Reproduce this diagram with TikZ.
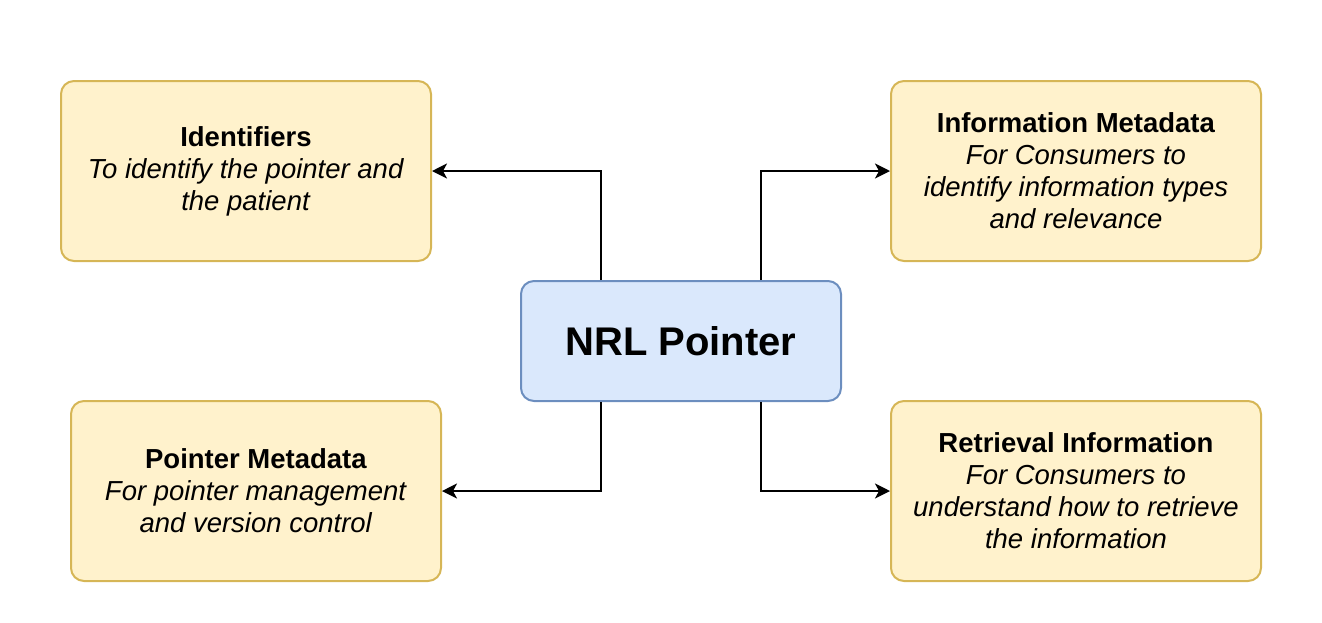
\documentclass[tikz,border=0pt]{standalone}
\usepackage{fontspec}
\setmainfont{Liberation Sans}
\usetikzlibrary{arrows.meta}
\definecolor{yfill}{HTML}{FFF2CC}
\definecolor{ydraw}{HTML}{D6B656}
\definecolor{bfill}{HTML}{DAE8FC}
\definecolor{bdraw}{HTML}{6C8EBF}
\tikzset{
  infobox/.style={draw=ydraw, fill=yfill, line width=2pt, rounded corners=13pt,
    minimum width=370pt, minimum height=180pt, inner sep=0pt, align=center,
    font=\fontsize{27.5}{32}\selectfont},
  mainbox/.style={draw=bdraw, fill=bfill, line width=2pt, rounded corners=13pt,
    minimum width=320pt, minimum height=120pt, inner sep=0pt, align=center,
    font=\fontsize{40}{48}\selectfont\bfseries},
  arr/.style={draw=black, line width=2pt, -{Stealth[length=15pt,width=15pt,inset=4pt]}}
}
\begin{document}
\begin{tikzpicture}[x=1pt,y=-1pt]
\useasboundingbox (0,0) rectangle (1322,622);
\node[infobox] (ident) at (246,171) {\textbf{Identifiers}\\\textit{To identify the pointer and}\\\textit{the patient}};
\node[infobox] (infometa) at (1076,171) {\textbf{Information Metadata}\\\textit{For Consumers to}\\\textit{identify information types}\\\textit{and relevance}};
\node[mainbox] (nrl) at (681,341) {NRL Pointer};
\node[infobox] (ptrmeta) at (256,491) {\textbf{Pointer Metadata}\\\textit{For pointer management}\\\textit{and version control}};
\node[infobox] (retr) at (1076,491) {\textbf{Retrieval Information}\\\textit{For Consumers to}\\\textit{understand how to retrieve}\\\textit{the information}};
\draw[arr] ([xshift=-80pt]nrl.north) |- (ident.east);
\draw[arr] ([xshift=80pt]nrl.north) |- (infometa.west);
\draw[arr] ([xshift=-80pt]nrl.south) |- (ptrmeta.east);
\draw[arr] ([xshift=80pt]nrl.south) |- (retr.west);
\end{tikzpicture}
\end{document}
